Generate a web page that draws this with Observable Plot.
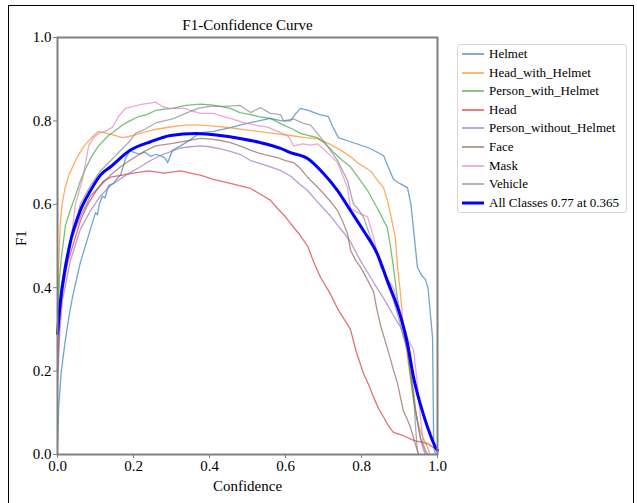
<!DOCTYPE html>
<html>
<head>
<meta charset="utf-8">
<script src="https://cdn.jsdelivr.net/npm/d3@7"></script>
<script src="https://cdn.jsdelivr.net/npm/@observablehq/plot@0.6"></script>
<style>
  html, body { margin: 0; padding: 0; background: #fff; overflow: hidden; }
  #wrap { position: relative; width: 637px; height: 503px; }
  #border { position: absolute; left: 8px; top: 5px; width: 626px; height: 520px; border: 1.5px solid #000; box-sizing: border-box; pointer-events: none; }
  #legend { position: absolute; left: 457px; top: 44px; width: 170px; height: 169px; border: 1px solid #d6d6d6; border-radius: 3px; box-sizing: border-box; font-family: "Liberation Serif", "DejaVu Serif", serif; font-size: 13px; color: #000; }
  .item { position: absolute; left: 4px; height: 16px; display: flex; align-items: center; white-space: nowrap; }
  .item svg { margin-right: 5px; }
</style>
</head>
<body>
<div id="wrap">
  <div id="chart"></div>
  <div id="legend"></div>
  <div id="border"></div>
</div>
<script>
const classNames = ["Helmet", "Head_with_Helmet", "Person_with_Helmet", "Head", "Person_without_Helmet", "Face", "Mask", "Vehicle"];
const classColors = ["#1f77b4", "#ff7f0e", "#2ca02c", "#d62728", "#9467bd", "#8c564b", "#e377c2", "#7f7f7f"];
const allLabel = "All Classes 0.77 at 0.365";
const xTicks = [0, 0.2, 0.4, 0.6, 0.8, 1.0];
const yTicks = [0, 0.2, 0.4, 0.6, 0.8, 1.0];

const helmet = [[0,0.02],[0.003,0.11],[0.01,0.2],[0.02,0.27],[0.03,0.33],[0.04,0.38],[0.05,0.42],[0.06,0.46],[0.07,0.49],[0.08,0.52],[0.09,0.55],[0.1,0.58],[0.105,0.575],[0.11,0.6],[0.118,0.62],[0.125,0.615],[0.134,0.645],[0.147,0.65],[0.155,0.66],[0.166,0.67],[0.179,0.71],[0.192,0.73],[0.2,0.725],[0.215,0.72],[0.23,0.725],[0.245,0.715],[0.26,0.72],[0.275,0.715],[0.284,0.71],[0.29,0.70],[0.303,0.73],[0.324,0.74],[0.35,0.755],[0.376,0.772],[0.41,0.775],[0.455,0.784],[0.48,0.79],[0.508,0.796],[0.56,0.806],[0.59,0.80],[0.613,0.80],[0.625,0.815],[0.639,0.83],[0.66,0.825],[0.69,0.815],[0.713,0.81],[0.725,0.785],[0.739,0.76],[0.771,0.75],[0.82,0.735],[0.858,0.717],[0.87,0.69],[0.884,0.66],[0.9,0.65],[0.921,0.64],[0.93,0.6],[0.937,0.54],[0.947,0.45],[0.958,0.43],[0.968,0.42],[0.975,0.40],[0.98,0.35],[0.987,0.28],[0.99,0.017],[0.995,0]];
const headWithHelmet = [[0,0.25],[0.003,0.45],[0.007,0.55],[0.012,0.6],[0.02,0.64],[0.03,0.67],[0.05,0.71],[0.07,0.74],[0.09,0.76],[0.108,0.775],[0.13,0.77],[0.15,0.765],[0.171,0.76],[0.2,0.765],[0.224,0.772],[0.26,0.78],[0.3,0.786],[0.337,0.79],[0.38,0.79],[0.42,0.787],[0.46,0.783],[0.5,0.778],[0.55,0.772],[0.613,0.765],[0.65,0.76],[0.684,0.757],[0.715,0.745],[0.745,0.73],[0.77,0.715],[0.789,0.70],[0.824,0.68],[0.84,0.66],[0.858,0.64],[0.868,0.61],[0.876,0.578],[0.889,0.52],[0.895,0.45],[0.902,0.39],[0.908,0.33],[0.92,0.24],[0.937,0.13],[0.95,0.07],[0.962,0.04],[0.974,0.017],[0.98,0]];
const personWithHelmet = [[0,0.3],[0.005,0.42],[0.01,0.47],[0.021,0.55],[0.035,0.59],[0.047,0.62],[0.06,0.655],[0.074,0.686],[0.09,0.715],[0.108,0.74],[0.134,0.765],[0.15,0.775],[0.171,0.79],[0.19,0.80],[0.213,0.81],[0.235,0.815],[0.258,0.825],[0.28,0.828],[0.303,0.83],[0.337,0.837],[0.376,0.84],[0.41,0.838],[0.455,0.83],[0.48,0.82],[0.508,0.815],[0.53,0.81],[0.56,0.806],[0.595,0.79],[0.62,0.78],[0.639,0.77],[0.66,0.765],[0.684,0.76],[0.705,0.745],[0.726,0.725],[0.75,0.705],[0.771,0.69],[0.795,0.66],[0.816,0.633],[0.842,0.59],[0.868,0.544],[0.876,0.50],[0.884,0.45],[0.895,0.37],[0.91,0.30],[0.921,0.25],[0.937,0.13],[0.955,0.04],[0.968,0.01],[0.975,0]];
const head = [[0,0.18],[0.005,0.33],[0.01,0.38],[0.02,0.44],[0.04,0.5],[0.06,0.56],[0.08,0.6],[0.1,0.63],[0.12,0.655],[0.14,0.665],[0.17,0.67],[0.2,0.675],[0.24,0.68],[0.28,0.675],[0.3,0.677],[0.324,0.68],[0.35,0.675],[0.376,0.67],[0.41,0.66],[0.455,0.65],[0.508,0.638],[0.542,0.62],[0.56,0.61],[0.579,0.59],[0.6,0.57],[0.613,0.554],[0.635,0.53],[0.658,0.50],[0.675,0.46],[0.692,0.425],[0.715,0.39],[0.737,0.35],[0.771,0.30],[0.785,0.25],[0.805,0.195],[0.82,0.165],[0.832,0.137],[0.845,0.11],[0.858,0.09],[0.87,0.07],[0.884,0.053],[0.91,0.045],[0.937,0.034],[0.974,0.026],[1.0,0.01]];
const personWithoutHelmet = [[0,0.2],[0.005,0.3],[0.013,0.37],[0.034,0.465],[0.06,0.54],[0.087,0.585],[0.113,0.62],[0.14,0.645],[0.18,0.67],[0.218,0.69],[0.245,0.705],[0.27,0.717],[0.3,0.727],[0.324,0.735],[0.35,0.738],[0.376,0.74],[0.4,0.738],[0.429,0.733],[0.455,0.727],[0.48,0.72],[0.508,0.705],[0.526,0.70],[0.56,0.69],[0.59,0.68],[0.613,0.668],[0.635,0.65],[0.658,0.633],[0.68,0.61],[0.7,0.59],[0.72,0.57],[0.737,0.55],[0.755,0.53],[0.771,0.51],[0.797,0.465],[0.824,0.425],[0.84,0.40],[0.858,0.375],[0.88,0.34],[0.903,0.305],[0.921,0.25],[0.93,0.2],[0.937,0.15],[0.945,0.09],[0.955,0.04],[0.963,0.01],[0.97,0]];
const face = [[0,0.2],[0.005,0.32],[0.013,0.39],[0.034,0.51],[0.06,0.57],[0.087,0.62],[0.113,0.645],[0.14,0.67],[0.166,0.69],[0.19,0.705],[0.224,0.725],[0.258,0.74],[0.303,0.746],[0.34,0.752],[0.376,0.758],[0.4,0.757],[0.429,0.753],[0.455,0.748],[0.48,0.74],[0.508,0.73],[0.526,0.724],[0.55,0.718],[0.579,0.712],[0.6,0.705],[0.621,0.70],[0.64,0.685],[0.658,0.665],[0.68,0.645],[0.7,0.626],[0.72,0.605],[0.737,0.585],[0.75,0.56],[0.763,0.53],[0.771,0.49],[0.785,0.465],[0.797,0.45],[0.815,0.42],[0.832,0.39],[0.84,0.35],[0.85,0.31],[0.863,0.27],[0.876,0.23],[0.885,0.20],[0.895,0.17],[0.903,0.135],[0.91,0.105],[0.92,0.085],[0.929,0.065],[0.94,0.03],[0.947,0.01],[0.95,0]];
const mask = [[0,0.15],[0.005,0.27],[0.013,0.39],[0.034,0.5],[0.047,0.6],[0.066,0.66],[0.082,0.74],[0.095,0.76],[0.108,0.77],[0.125,0.775],[0.145,0.785],[0.16,0.81],[0.179,0.83],[0.2,0.835],[0.224,0.84],[0.24,0.842],[0.258,0.845],[0.275,0.835],[0.292,0.83],[0.315,0.83],[0.337,0.83],[0.35,0.825],[0.376,0.818],[0.41,0.818],[0.43,0.812],[0.455,0.806],[0.489,0.796],[0.52,0.79],[0.553,0.785],[0.587,0.772],[0.605,0.765],[0.613,0.755],[0.621,0.74],[0.645,0.745],[0.666,0.742],[0.684,0.745],[0.71,0.724],[0.737,0.70],[0.75,0.67],[0.763,0.64],[0.771,0.59],[0.79,0.58],[0.816,0.57],[0.832,0.52],[0.842,0.48],[0.85,0.45],[0.868,0.42],[0.884,0.40],[0.9,0.35],[0.921,0.28],[0.937,0.25],[0.947,0.17],[0.955,0.09],[0.963,0.026],[0.968,0]];
const vehicle = [[0,0.2],[0.008,0.39],[0.02,0.46],[0.034,0.51],[0.06,0.6],[0.087,0.645],[0.113,0.68],[0.153,0.717],[0.192,0.753],[0.205,0.77],[0.23,0.78],[0.258,0.795],[0.28,0.80],[0.303,0.805],[0.337,0.818],[0.37,0.83],[0.4,0.835],[0.44,0.835],[0.48,0.837],[0.508,0.82],[0.534,0.832],[0.56,0.818],[0.587,0.815],[0.595,0.80],[0.621,0.805],[0.647,0.794],[0.666,0.79],[0.684,0.77],[0.71,0.74],[0.737,0.705],[0.763,0.657],[0.779,0.60],[0.79,0.59],[0.805,0.57],[0.824,0.52],[0.842,0.48],[0.86,0.43],[0.884,0.37],[0.9,0.32],[0.921,0.25],[0.937,0.145],[0.942,0.07],[0.947,0.01],[0.95,0]];
const allClasses = [[0,0.29],[0.008,0.37],[0.021,0.45],[0.034,0.51],[0.06,0.585],[0.087,0.633],[0.113,0.67],[0.14,0.69],[0.192,0.73],[0.245,0.75],[0.297,0.765],[0.365,0.77],[0.429,0.765],[0.48,0.758],[0.534,0.748],[0.587,0.734],[0.613,0.724],[0.658,0.71],[0.7,0.674],[0.737,0.633],[0.771,0.585],[0.805,0.537],[0.842,0.48],[0.868,0.417],[0.903,0.33],[0.921,0.266],[0.937,0.185],[0.955,0.12],[0.974,0.065],[0.995,0.017],[1.0,0.01]];

const classSeries = [helmet, headWithHelmet, personWithHelmet, head, personWithoutHelmet, face, mask, vehicle];

const rows = [];
classSeries.forEach((s, i) => s.forEach(([x, y]) => rows.push({name: classNames[i], x, y})));
const allRows = allClasses.map(([x, y]) => ({name: allLabel, x, y}));

const serif = "'Liberation Serif', 'DejaVu Serif', serif";

const chart = Plot.plot({
  width: 637,
  height: 503,
  marginLeft: 57,
  marginRight: 200,
  marginTop: 37,
  marginBottom: 49,
  style: {fontFamily: serif, fontSize: "14px", background: "white", color: "black"},
  x: {domain: [0, 1]},
  y: {domain: [0, 1]},
  color: {domain: classNames, range: classColors},
  marks: [
    Plot.line(rows, {x: "x", y: "y", z: "name", stroke: "name", strokeWidth: 1.3, strokeOpacity: 0.65}),
    Plot.line(allRows, {x: "x", y: "y", stroke: "#0000ff", strokeWidth: 3, curve: "monotone-x"}),
    Plot.frame({stroke: "#808080", strokeWidth: 2}),
    Plot.axisX({ticks: xTicks, tickFormat: d3.format(".1f"), tickSize: 4, tickPadding: 2, stroke: "#808080", fill: "black", fontSize: 15, label: null}),
    Plot.axisY({ticks: yTicks, tickFormat: d3.format(".1f"), tickSize: 4, tickPadding: 2, stroke: "#808080", fill: "black", fontSize: 15, label: null}),
    Plot.text(["F1-Confidence Curve"], {frameAnchor: "top", dy: -18, fontSize: 15, fill: "black"}),
    Plot.text(["Confidence"], {frameAnchor: "bottom", dy: 36, fontSize: 15, fill: "black"}),
    Plot.text(["F1"], {frameAnchor: "left", dx: -36, rotate: -90, fontSize: 15, fill: "black"})
  ]
});
document.getElementById("chart").appendChild(chart);

// legend
const legend = document.getElementById("legend");
const entries = classNames.map((n, i) => ({label: n, color: classColors[i], width: 1.8, opacity: 0.65}))
  .concat([{label: allLabel, color: "#0000ff", width: 3, opacity: 1}]);
entries.forEach((e, i) => {
  const div = document.createElement("div");
  div.className = "item";
  div.style.top = (1 + i * 18.6) + "px";
  div.innerHTML = `<svg width="22" height="6"><line x1="0" y1="3" x2="22" y2="3" stroke="${e.color}" stroke-width="${e.width}" stroke-opacity="${e.opacity}"/></svg><span>${e.label}</span>`;
  legend.appendChild(div);
});
</script>
</body>
</html>
